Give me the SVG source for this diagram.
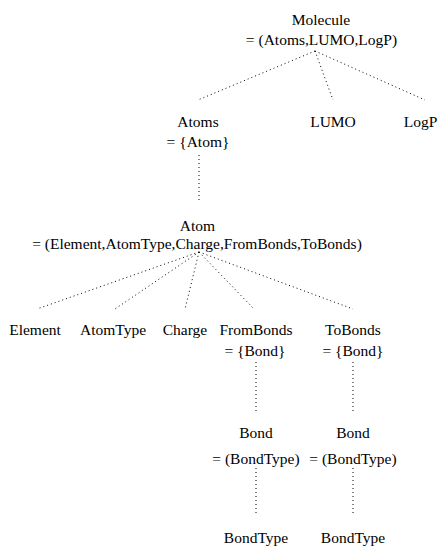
<svg xmlns="http://www.w3.org/2000/svg" width="442" height="547" viewBox="0 0 442 547">
<style>
text{font-family:"Liberation Serif","Times New Roman",serif;font-size:15.5px;fill:#000;text-anchor:middle}
.c line{stroke:#000;stroke-width:1;stroke-dasharray:1 3;fill:none}
</style>
<rect width="442" height="547" fill="#fff"/>
<g class="c" id="connectors">
<line x1="315" y1="51" x2="198" y2="100"/>
<line x1="315" y1="51" x2="333" y2="100"/>
<line x1="315" y1="51" x2="425" y2="100"/>
<line x1="199" y1="155" x2="199" y2="203"/>
<line x1="199" y1="252" x2="37" y2="309"/>
<line x1="199" y1="252" x2="115" y2="309"/>
<line x1="199" y1="252" x2="185" y2="309"/>
<line x1="199" y1="252" x2="254" y2="309"/>
<line x1="199" y1="252" x2="353" y2="309"/>
<line x1="256" y1="362" x2="256" y2="411"/>
<line x1="353" y1="362" x2="353" y2="411"/>
<line x1="256" y1="468" x2="256" y2="514"/>
<line x1="353" y1="468" x2="353" y2="514"/>
</g>
<g id="molecule"><text x="321" y="25">Molecule</text><text x="321.5" y="45">= (Atoms,LUMO,LogP)</text></g>
<g id="atoms"><text x="198" y="127">Atoms</text><text x="198" y="147">= {Atom}</text></g>
<g id="lumo"><text x="333" y="127">LUMO</text></g>
<g id="logp"><text x="420.5" y="127">LogP</text></g>
<g id="atom"><text x="197.5" y="231">Atom</text><text x="197" y="249">= (Element,AtomType,Charge,FromBonds,ToBonds)</text></g>
<g id="element"><text x="35" y="335">Element</text></g>
<g id="atomtype"><text x="113" y="335">AtomType</text></g>
<g id="charge"><text x="185" y="335">Charge</text></g>
<g id="frombonds"><text x="256" y="335">FromBonds</text><text x="255" y="356">= {Bond}</text></g>
<g id="tobonds"><text x="353" y="335">ToBonds</text><text x="353" y="356">= {Bond}</text></g>
<g id="bond1"><text x="256" y="438">Bond</text><text x="256" y="464">= (BondType)</text></g>
<g id="bond2"><text x="353" y="438">Bond</text><text x="353" y="464">= (BondType)</text></g>
<g id="bondtype1"><text x="256" y="543">BondType</text></g>
<g id="bondtype2"><text x="353" y="543">BondType</text></g>
</svg>
